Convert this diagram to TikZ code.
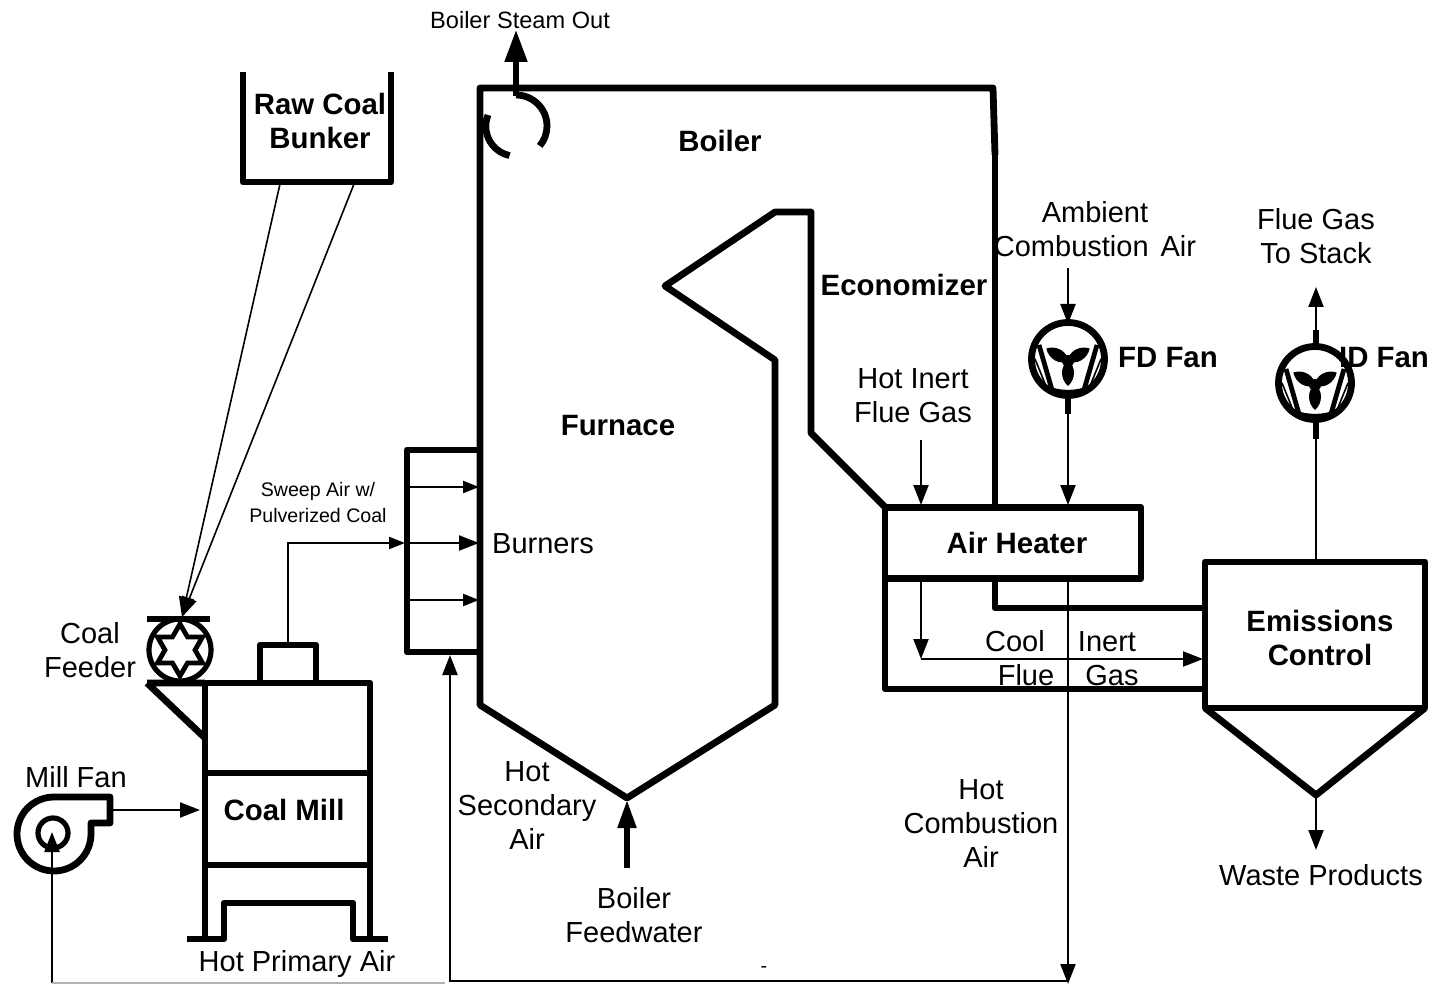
\documentclass[tikz,border=0pt]{standalone}
\usepackage{fontspec}
\setmainfont{Liberation Sans}
\usetikzlibrary{arrows.meta,positioning,shapes.geometric}
\tikzset{
  wall/.style={line width=3.4pt, line join=round},
  heavy/.style={line width=2.8pt, line join=round},
  flow/.style={-{Stealth[length=10pt,width=7.5pt,inset=0pt]}, line width=1.1pt},
  smallflow/.style={-{Stealth[length=8pt,width=6pt,inset=0pt]}, line width=1.1pt},
  bigflow/.style={-{Stealth[length=16pt,width=11pt,inset=0pt]}, line width=2.6pt},
  feed/.style={line width=.8pt},
  label/.style={align=center, inner sep=0pt, font=\fontsize{14.5}{17}\selectfont},
  blabel/.style={align=center, inner sep=0pt, font=\fontsize{14.7}{17}\selectfont\bfseries},
  tiny/.style={align=center, inner sep=0pt, font=\fontsize{9.8}{13}\selectfont},
  unit/.style={draw, wall, inner sep=0pt, outer sep=0pt},
  fansym/.pic={
    \draw[line width=3.4pt] (0,0) circle (36.5);
    \draw[line width=2.4pt, line join=round] (-29,-14) -- (-16,31) .. controls (-6,34) and (6,34) .. (16,31) -- (29,-14);
    \draw[line width=.8pt] (-33,0) -- (-22,27) (33,0) -- (22,27);
    \fill (0,2) circle (6);
    \foreach \a in {0,120,240}
      \fill[shift={(0,2)}, rotate=\a] (0,0) .. controls (8,5) and (8,18) .. (0,25) .. controls (-8,18) and (-8,5) .. (0,0);
  }
}
\begin{document}
\begin{tikzpicture}[x=.5pt, y=-.5pt]
  \useasboundingbox (0,0) rectangle (1447,984);

  % boiler and furnace walls
  \draw[wall] (995,155) -- (993,88) -- (480,88) -- (480,705) -- (627,798) -- (775,705) -- (775,360)
    -- (665,286) -- (775,212) -- (811,212) -- (811,433) -- (885,507);
  \draw[heavy] (995,155) -- (995,507);
  \draw[wall] (480,450) -- (407,450) -- (407,652) -- (480,652);

  % steam drum
  \coordinate (drum) at (516,126);
  \draw[wall] (516,95) arc (-90:40:31);
  \draw[wall] (488,115) arc (-158:-258:30);

  % units
  \node[unit, minimum width=128pt, minimum height=35.5pt, blabel] (heater) at (1013,543) {};
  \node[blabel] (heaterlbl) at (1017,543) {Air Heater};
  \node[unit, minimum width=110pt, minimum height=73pt] (control) at (1315,635) {};
  \node[blabel] (controllbl) at (1320,638) {Emissions\\Control};
  \draw[wall] (control.south west) -- (1316,795) -- (control.south east);
  \draw[wall] (885,578) -- (885,689) -- (control.west |- 0,689);
  \draw[wall] (995,578) -- (995,608) -- (control.west |- 0,608);

  % coal bunker
  \draw[wall] (243,72) -- (243,182) -- (391,182) -- (391,72);
  \node[blabel] (bunker) at (320,121) {Raw Coal\\Bunker};

  % coal mill
  \draw[wall] (205,940) -- (205,683) -- (370,683) -- (370,940);
  \draw[wall] (205,773) -- (370,773) (205,865) -- (370,865);
  \draw[wall] (260,683) -- (260,645) -- (316,645) -- (316,683);
  \draw[wall] (187,939) -- (224,939) -- (224,903) -- (353,903) -- (353,939) -- (388,939);
  \draw[wall] (147,683) -- (205,683) (147,683) -- (205,738);
  \node[blabel] (mill) at (284,810) {Coal Mill};

  % coal feeder
  \node[draw, circle, line width=2.6pt, minimum size=31pt, inner sep=0pt] (feeder) at (180,650) {};
  \node[draw, star, star points=6, star point ratio=1.73, line width=2.4pt, minimum size=26pt, inner sep=0pt] (starwheel) at (180,650) {};
  \draw[heavy] (147,619) -- (210,619);
  \coordinate (feedin) at (182,617);
  \coordinate (bunkerl) at (280,184);
  \coordinate (bunkerr) at (354,184);
  \draw[flow, feed] (bunkerl) -- (feedin);
  \draw[flow, feed] (bunkerr) -- (feedin);

  % fans
  \pic (fd) at (1068,359) {fansym};
  \pic (id) at (1315,383) {fansym};
  \draw[wall] (110,797) -- (54,797) arc (-90:-360:37) -- (91,823) -- (110,823) -- cycle;
  \node[draw, circle, line width=2.6pt, minimum size=15pt, inner sep=0pt] (millfan) at (53,833) {};

  % flows
  \coordinate (amb) at (1068,268);
  \coordinate (fdin) at (1068,324);
  \coordinate (fdout) at (1068,414);
  \coordinate (heatfd) at (1068,505);
  \coordinate (inert) at (921,440);
  \coordinate (heatin) at (921,505);
  \coordinate (heatcool) at (921,578);
  \coordinate (coolturn) at (921,659);
  \coordinate (coolend) at (1203,659);
  \coordinate (hotdown) at (1068,578);
  \coordinate (hotend) at (1068,984);
  \coordinate (hotline) at (1068,981);
  \coordinate (seccorner) at (450,981);
  \coordinate (secend) at (450,655);
  \coordinate (stackup) at (1316,562);
  \coordinate (stacktip) at (1316,287);
  \coordinate (hopper) at (1316,795);
  \coordinate (waste) at (1316,850);
  \draw[flow] (amb) -- (fdin);
  \draw[wall] (1068,395) -- (fdout);
  \draw[flow] (fdout) -- (heatfd);
  \draw[flow] (inert) -- (heatin);
  \draw[flow] (heatcool) -- (coolturn);
  \draw[flow] (coolturn) -- (coolend);
  \draw[flow] (hotdown) -- (hotend);
  \draw[flow] (hotline) -- (seccorner) -- (secend);
  \draw[line width=1.1pt] (stackup) -- (1316,439);
  \draw[wall] (1316,439) -- (1316,419);
  \draw[wall] (1316,345) -- (1316,330);
  \draw[flow] (1316,330) -- (stacktip);
  \draw[flow] (hopper) -- (waste);

  % burners
  \coordinate (bl1) at (410,487);
  \coordinate (bl2) at (410,543);
  \coordinate (bl3) at (410,600);
  \coordinate (br1) at (479,487);
  \coordinate (br2) at (479,543);
  \coordinate (br3) at (479,600);
  \draw[smallflow] (bl1) -- (br1);
  \draw[flow] (bl2) -- (br2);
  \draw[smallflow] (bl3) -- (br3);
  \coordinate (millout) at (288,643);
  \coordinate (burnin) at (405,543);
  \draw[smallflow] (millout) |- (burnin);

  % mill fan air
  \coordinate (fanair) at (52,983);
  \coordinate (fanhub) at (52,832);
  \coordinate (fanout) at (112,810);
  \coordinate (millin) at (200,810);
  \draw[flow] (fanair) -- (fanhub);
  \draw[flow] (fanout) -- (millin);
  \draw[gray!60, line width=1.1pt] (52,983) -- (445,983);

  % steam and feedwater
  \coordinate (steamin) at (516,96);
  \coordinate (steamout) at (516,30);
  \coordinate (waterin) at (627,868);
  \coordinate (waterout) at (627,800);
  \draw[bigflow] (steamin) -- (steamout);
  \draw[bigflow, -{Stealth[length=14pt,width=9pt,inset=0pt]}] (waterin) -- (waterout);

  % labels
  \node[label, font=\fontsize{11.8}{14}\selectfont] (steam) at (520,20) {Boiler Steam Out};
  \node[blabel] (boiler) at (720,141) {Boiler};
  \node[blabel] (econ) at (904,285) {Economizer};
  \node[label] (ambient) at (1095,229) {Ambient\\Combustion\hspace{6pt}Air};
  \node[label] (stack) at (1316,236.5) {Flue Gas\\To Stack};
  \node[blabel] (fdlbl) at (1168,358) {FD Fan};
  \node[blabel] (idlbl) at (1384,358) {ID Fan};
  \node[blabel] (furnace) at (618,426) {Furnace};
  \node[label] (hotinert) at (913,396) {Hot Inert\\Flue Gas};
  \node[tiny] (sweep) at (318,502) {Sweep Air w/\\Pulverized Coal};
  \node[label] (burners) at (543,544) {Burners};
  \node[label] (cool) at (1015,641) {Cool};
  \node[label] (inertlbl) at (1107,642) {Inert};
  \node[label] (flue) at (1026,675) {Flue};
  \node[label] (gas) at (1112,676) {Gas};
  \node[label] (feederlbl) at (90,650) {Coal\\Feeder};
  \node[label] (fanlbl) at (76,777) {Mill Fan};
  \node[label] (primary) at (297,964) {Hot Primary Air};
  \node[label] (secondary) at (527,806) {Hot\\Secondary\\Air};
  \node[label] (water) at (634,915) {Boiler\\Feedwater};
  \node[label] (hotcomb) at (981,824) {Hot\\Combustion\\Air};
  \node[label] (wastelbl) at (1321,875) {Waste Products};
  \node[tiny] (dash) at (764,970) {-};
\end{tikzpicture}
\end{document}
